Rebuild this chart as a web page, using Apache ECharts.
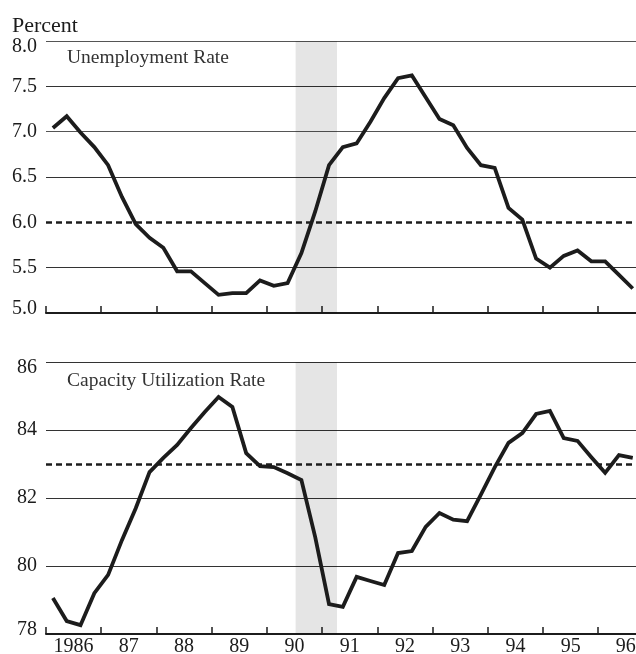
<!DOCTYPE html>
<html>
<head>
<meta charset="utf-8">
<script src="https://cdn.jsdelivr.net/npm/echarts@6/dist/echarts.min.js"></script>
<style>
  html, body { margin: 0; padding: 0; background: #fff; }
  #chart { width: 636px; height: 654px; }
</style>
</head>
<body>
<div id="chart"></div>
<script>
// quarterly observations, 1986Q1 .. 1996Q3
const quarters = [
  '1986Q1', '1986Q2', '1986Q3', '1986Q4', '1987Q1', '1987Q2', '1987Q3', '1987Q4',
  '1988Q1', '1988Q2', '1988Q3', '1988Q4', '1989Q1', '1989Q2', '1989Q3', '1989Q4',
  '1990Q1', '1990Q2', '1990Q3', '1990Q4', '1991Q1', '1991Q2', '1991Q3', '1991Q4',
  '1992Q1', '1992Q2', '1992Q3', '1992Q4', '1993Q1', '1993Q2', '1993Q3', '1993Q4',
  '1994Q1', '1994Q2', '1994Q3', '1994Q4', '1995Q1', '1995Q2', '1995Q3', '1995Q4',
  '1996Q1', '1996Q2', '1996Q3'
];

const unemployment = [
  7.04, 7.17, 6.99, 6.83, 6.63, 6.28, 5.98, 5.83,
  5.72, 5.46, 5.46, 5.33, 5.20, 5.22, 5.22, 5.36,
  5.30, 5.33, 5.66, 6.12, 6.63, 6.83, 6.87, 7.11,
  7.37, 7.59, 7.62, 7.38, 7.14, 7.07, 6.82, 6.63,
  6.60, 6.16, 6.03, 5.60, 5.50, 5.63, 5.69, 5.57,
  5.57, 5.42, 5.27
];

const capacity = [
  79.06, 78.38, 78.26, 79.20, 79.74, 80.76, 81.70, 82.76,
  83.18, 83.56, 84.06, 84.53, 84.97, 84.68, 83.32, 82.94,
  82.91, 82.73, 82.53, 80.85, 78.88, 78.80, 79.68, 79.56,
  79.44, 80.38, 80.44, 81.15, 81.56, 81.36, 81.32, 82.10,
  82.90, 83.62, 83.91, 84.47, 84.56, 83.76, 83.68, 83.20,
  82.74, 83.26, 83.18
];

const yearLabels = ['1986', '87', '88', '89', '90', '91', '92', '93', '94', '95', '96'];
const recession = [1990.52, 1991.27];
const unempRef = 6.0;
const capRef = 83;

const FONT = '"Liberation Serif", "Times New Roman", serif';
const INK = '#1c1c1c';

const toX = (q) => Number(q.slice(0, 4)) + (Number(q.slice(5)) - 0.5) / 4;

const xMin = 1986;
const xMax = 1996.72;

const chart = echarts.init(document.getElementById('chart'));

const yLabel = (min, max, digits) => (v) => {
  const txt = v.toFixed(digits);
  if (Math.abs(v - max) < 1e-9) return '{top|' + txt + '}';
  if (Math.abs(v - min) < 1e-9) return '{bot|' + txt + '}';
  return txt;
};

const labelRich = {
  top: { fontFamily: FONT, fontSize: 20, color: INK, padding: [12, 0, 0, 0] },
  bot: { fontFamily: FONT, fontSize: 20, color: INK, padding: [0, 0, 9, 0] }
};

const baseX = (gridIndex) => ({
  type: 'value',
  gridIndex: gridIndex,
  min: xMin,
  max: xMax,
  interval: 1,
  axisLine: { show: true, lineStyle: { color: INK, width: 2 } },
  axisTick: { show: true, inside: true, length: 7, lineStyle: { color: INK, width: 1.5 } },
  axisLabel: { show: false },
  splitLine: { show: false }
});

const dashed = (v) => ({
  silent: true,
  symbol: 'none',
  label: { show: false },
  lineStyle: { color: INK, width: 2.5, type: [6, 4] },
  data: [{ yAxis: v }]
});

const shade = {
  silent: true,
  itemStyle: { color: 'rgba(0,0,0,0.1)' },
  data: [[{ xAxis: recession[0] }, { xAxis: recession[1] }]]
};

const option = {
  animation: false,
  backgroundColor: '#fff',
  grid: [
    { left: 46, right: -2, top: 41, height: 272, outerBoundsMode: 'none' },
    { left: 46, right: -2, top: 362, height: 272, outerBoundsMode: 'none' }
  ],
  xAxis: [
    baseX(0),
    baseX(1),
    {
      type: 'value',
      gridIndex: 1,
      position: 'bottom',
      min: xMin,
      max: xMax,
      interval: 0.5,
      axisLine: { show: false },
      axisTick: { show: false },
      splitLine: { show: false },
      axisLabel: {
        margin: 3,
        fontFamily: FONT,
        fontSize: 20,
        color: INK,
        showMinLabel: true,
        showMaxLabel: true,
        formatter: (v) => {
          const i = Math.round(v - 1986.5);
          if (Math.abs(v - 1986.5 - i) > 1e-6) return '';
          return yearLabels[i] || '';
        }
      }
    }
  ],
  yAxis: [
    {
      type: 'value',
      gridIndex: 0,
      min: 5,
      max: 8,
      interval: 0.5,
      axisLine: { show: false },
      axisTick: { show: false },
      axisLabel: {
        margin: 9,
        fontFamily: FONT,
        fontSize: 20,
        color: INK,
        formatter: yLabel(5, 8, 1),
        rich: labelRich
      },
      splitLine: {
        show: true,
        lineStyle: {
          color: ['#333', '#333', 'rgba(0,0,0,0)', '#333', '#555', '#333', '#555'],
          width: 1.2
        }
      }
    },
    {
      type: 'value',
      gridIndex: 1,
      min: 78,
      max: 86,
      interval: 2,
      axisLine: { show: false },
      axisTick: { show: false },
      axisLabel: {
        margin: 9,
        fontFamily: FONT,
        fontSize: 20,
        color: INK,
        formatter: yLabel(78, 86, 0),
        rich: labelRich
      },
      splitLine: { show: true, lineStyle: { color: '#333', width: 1.2 } }
    }
  ],
  graphic: [
    {
      type: 'text', left: 12, top: 15,
      style: { text: 'Percent', fontFamily: FONT, fontSize: 22, fill: INK }
    },
    {
      type: 'text', left: 67, top: 48,
      style: { text: 'Unemployment Rate', fontFamily: FONT, fontSize: 19.5, fill: '#333' }
    },
    {
      type: 'text', left: 67, top: 371,
      style: { text: 'Capacity Utilization Rate', fontFamily: FONT, fontSize: 19.5, fill: '#333' }
    }
  ],
  series: [
    {
      name: 'Unemployment Rate',
      type: 'line',
      xAxisIndex: 0,
      yAxisIndex: 0,
      symbol: 'none',
      lineStyle: { color: INK, width: 3.8, join: 'miter' },
      data: quarters.map((q, i) => [toX(q), unemployment[i]]),
      markArea: shade,
      markLine: dashed(unempRef)
    },
    {
      name: 'Capacity Utilization Rate',
      type: 'line',
      xAxisIndex: 1,
      yAxisIndex: 1,
      symbol: 'none',
      lineStyle: { color: INK, width: 3.8, join: 'miter' },
      data: quarters.map((q, i) => [toX(q), capacity[i]]),
      markArea: shade,
      markLine: dashed(capRef)
    }
  ]
};

chart.setOption(option);
</script>
</body>
</html>
